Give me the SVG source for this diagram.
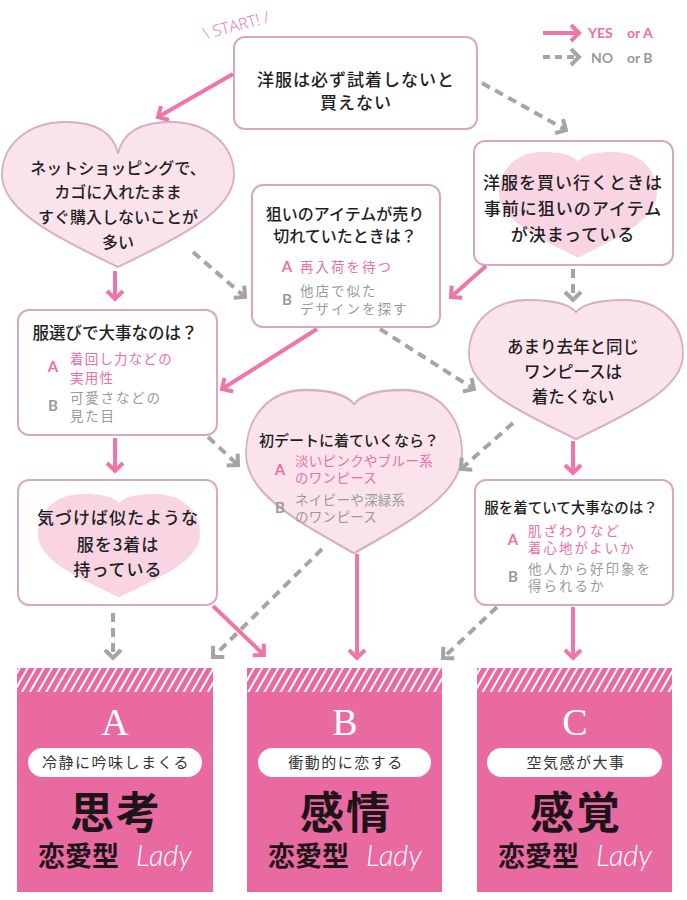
<svg xmlns="http://www.w3.org/2000/svg" width="687" height="900" viewBox="0 0 687 900">
<defs>
<style>
.q{font-family:"Noto Sans CJK JP","Noto Sans",sans-serif;font-weight:500;fill:#1e1e1e;text-anchor:middle;}
.box{fill:#ffffff;stroke:#d8a9be;stroke-width:2;}
.heart{fill:#fbe3ec;stroke:#d6afc0;}
.pale{fill:#f9d5e3;}
.oa{font-family:"Noto Sans CJK JP","Noto Sans",sans-serif;fill:#ec6fa5;font-size:13.5px;}
.ob{font-family:"Noto Sans CJK JP","Noto Sans",sans-serif;fill:#9a9a9a;font-size:13.5px;}
.la{font-family:"Lato","Liberation Sans",sans-serif;font-weight:bold;font-size:15px;fill:#ec6fa5;text-anchor:middle;}
.lb{font-family:"Lato","Liberation Sans",sans-serif;font-weight:bold;font-size:15px;fill:#9a9a9a;text-anchor:middle;}
.yes{fill:none;stroke:#ef75ab;stroke-width:4;}
.no{fill:none;stroke:#a5a5a5;stroke-width:4;stroke-dasharray:9 6;}
.res{fill:#e96aa1;}
.band{fill:url(#stripes);}
.letter{font-family:"Liberation Serif","DejaVu Serif",serif;font-size:38px;fill:#ffffff;text-anchor:middle;}
.pill{fill:#ffffff;}
.pt{font-family:"Noto Sans CJK JP",sans-serif;font-size:15px;fill:#333333;text-anchor:middle;letter-spacing:1.5px;}
.big{font-family:"Noto Sans CJK JP",sans-serif;font-weight:bold;font-size:44px;fill:#1e1418;text-anchor:middle;letter-spacing:2px;}
.ren{font-family:"Noto Sans CJK JP",sans-serif;font-weight:bold;font-size:27px;fill:#1e1418;}
.lady{font-family:"Lato","Liberation Sans",sans-serif;font-style:italic;font-weight:300;font-size:29px;fill:#ffffff;}
.leg{font-family:"Lato","Liberation Sans",sans-serif;font-weight:bold;font-size:14px;}
</style>
<pattern id="stripes" patternUnits="userSpaceOnUse" width="7" height="7" patternTransform="rotate(30)">
<rect width="7" height="7" fill="#e96aa1"/>
<rect x="0" y="0" width="2" height="7" fill="#ffffff"/>
</pattern>
<path id="heartDeep" d="M0,0.25 C-0.05,0.05 -0.25,0 -0.45,0 C-0.8,0 -1,0.2 -1,0.42 C-1,0.72 -0.45,0.95 0,1.15 C0.45,0.95 1,0.72 1,0.42 C1,0.2 0.8,0 0.45,0 C0.25,0 0.05,0.05 0,0.25 Z"/>
<path id="heartShallow" d="M0,0.1 C-0.08,0.02 -0.25,0 -0.45,0 C-0.8,0 -1,0.2 -1,0.45 C-1,0.75 -0.45,0.95 0,1.15 C0.45,0.95 1,0.75 1,0.45 C1,0.2 0.8,0 0.45,0 C0.25,0 0.08,0.02 0,0.1 Z"/>
<marker id="ap" markerUnits="userSpaceOnUse" markerWidth="24" markerHeight="24" viewBox="-12 -12 24 24" refX="0" refY="0" orient="auto" overflow="visible">
<path d="M-8,-8 L0,0 L-8,8" fill="none" stroke="#ef75ab" stroke-width="4"/>
</marker>
<marker id="ag" markerUnits="userSpaceOnUse" markerWidth="24" markerHeight="24" viewBox="-12 -12 24 24" refX="0" refY="0" orient="auto" overflow="visible">
<path d="M-8,-8 L0,0 L-8,8" fill="none" stroke="#a5a5a5" stroke-width="4"/>
</marker>
</defs>
<rect width="687" height="900" fill="#ffffff"/>

<!-- START label -->
<text x="236" y="31" transform="rotate(-15 236 25)" font-family="Open Sans, Liberation Sans, sans-serif" font-weight="300" font-size="16" fill="#ec6fa5" text-anchor="middle">\ START! /</text>

<!-- legend -->
<g id="legend">
<path class="yes" d="M543,33 L579,33" marker-end="url(#ap)"/>
<text class="leg" x="588" y="38" fill="#ec6fa5">YES</text>
<text class="leg" x="627" y="38" fill="#ec6fa5">or A</text>
<path class="no" d="M543,57 L579,57" marker-end="url(#ag)" style="stroke-dasharray:7 5"/>
<text class="leg" x="591" y="63" fill="#9a9a9a">NO</text>
<text class="leg" x="627" y="63" fill="#9a9a9a">or B</text>
</g>

<!-- nodes -->
<g id="n-start">
<rect class="box" x="234" y="37" width="243" height="92" rx="11"/>
<text class="q" font-size="17" letter-spacing="1" x="356" y="86">洋服は必ず試着しないと</text>
<text class="q" font-size="17" letter-spacing="1" x="356" y="109">買えない</text>
</g>

<g id="n-net">
<use href="#heartDeep" class="heart" transform="translate(118,122) scale(116,126)" vector-effect="non-scaling-stroke" style="stroke-width:0.016"/>
<text class="q" font-size="16" x="118" y="174">ネットショッピングで、</text>
<text class="q" font-size="16" x="118" y="198">カゴに入れたまま</text>
<text class="q" font-size="16" x="118" y="223">すぐ購入しないことが</text>
<text class="q" font-size="16" x="118" y="248">多い</text>
</g>

<g id="n-soldout">
<rect class="box" x="252" y="185" width="188" height="142" rx="11"/>
<text class="q" font-size="16" x="345" y="220">狙いのアイテムが売り</text>
<text class="q" font-size="16" x="345" y="242">切れていたときは？</text>
<text class="la" x="287" y="272">A</text>
<text class="oa" x="300" y="272" letter-spacing="2">再入荷を待つ</text>
<text class="lb" x="287" y="305">B</text>
<text class="ob" x="300" y="296" letter-spacing="2">他店で似た</text>
<text class="ob" x="300" y="314" letter-spacing="2">デザインを探す</text>
</g>

<g id="n-target">
<rect class="box" x="474" y="141" width="199" height="124" rx="11"/>
<use href="#heartShallow" class="pale" transform="translate(578,152) scale(79,92)"/>
<text class="q" font-size="17" letter-spacing="1" x="573" y="189">洋服を買い行くときは</text>
<text class="q" font-size="17" letter-spacing="1" x="573" y="215">事前に狙いのアイテム</text>
<text class="q" font-size="17" letter-spacing="1" x="573" y="241">が決まっている</text>
</g>

<g id="n-choose">
<rect class="box" x="18" y="310" width="199" height="125" rx="11"/>
<text class="q" font-size="16.5" x="115" y="339">服選びで大事なのは？</text>
<text class="la" x="53" y="372">A</text>
<text class="oa" x="70" y="364" letter-spacing="1.2">着回し力などの</text>
<text class="oa" x="70" y="383" letter-spacing="1.2">実用性</text>
<text class="lb" x="53" y="411">B</text>
<text class="ob" x="70" y="403" letter-spacing="1.8">可愛さなどの</text>
<text class="ob" x="70" y="421" letter-spacing="1.8">見た目</text>
</g>

<g id="n-lastyear">
<use href="#heartShallow" class="heart" transform="translate(576,300) scale(107,121)" vector-effect="non-scaling-stroke" style="stroke-width:0.017"/>
<text class="q" font-size="16.5" x="573" y="353">あまり去年と同じ</text>
<text class="q" font-size="16.5" x="573" y="378">ワンピースは</text>
<text class="q" font-size="16.5" x="573" y="403">着たくない</text>
</g>

<g id="n-date">
<use href="#heartShallow" class="heart" transform="translate(354,390) scale(108,142)" vector-effect="non-scaling-stroke" style="stroke-width:0.016"/>
<text class="q" font-size="15" x="349" y="446">初デートに着ていくなら？</text>
<text class="la" x="280" y="475">A</text>
<text class="oa" x="295" y="466" letter-spacing="0.3">淡いピンクやブルー系</text>
<text class="oa" x="295" y="483" letter-spacing="0.3">のワンピース</text>
<text class="lb" x="280" y="513">B</text>
<text class="ob" x="295" y="505" letter-spacing="0.3">ネイビーや深緑系</text>
<text class="ob" x="295" y="522" letter-spacing="0.3">のワンピース</text>
</g>

<g id="n-similar">
<rect class="box" x="18" y="480" width="199" height="125" rx="11"/>
<use href="#heartShallow" class="pale" transform="translate(119,494) scale(81,90)"/>
<text class="q" font-size="17" letter-spacing="1" x="118" y="524">気づけば似たような</text>
<text class="q" font-size="17" letter-spacing="1" x="118" y="551">服を3着は</text>
<text class="q" font-size="17" letter-spacing="1" x="118" y="576">持っている</text>
</g>

<g id="n-wear">
<rect class="box" x="475" y="480" width="198" height="125" rx="11"/>
<text class="q" font-size="14.5" x="571" y="513">服を着ていて大事なのは？</text>
<text class="la" x="513" y="545">A</text>
<text class="oa" x="528" y="536" letter-spacing="2">肌ざわりなど</text>
<text class="oa" x="528" y="553" letter-spacing="2">着心地がよいか</text>
<text class="lb" x="513" y="582">B</text>
<text class="ob" x="528" y="574" letter-spacing="2">他人から好印象を</text>
<text class="ob" x="528" y="591" letter-spacing="2">得られるか</text>
</g>

<!-- results -->
<g id="r-a">
<rect class="res" x="17" y="668" width="196" height="224"/>
<rect class="band" x="17" y="668" width="196" height="24"/>
<text class="letter" x="115" y="735">A</text>
<rect class="pill" x="28" y="748" width="174" height="29" rx="14.5"/>
<text class="pt" x="116" y="768">冷静に吟味しまくる</text>
<text class="big" x="116" y="829">思考</text>
<text class="ren" x="38" y="866">恋愛型</text>
<text class="lady" x="136" y="866">Lady</text>
</g>

<g id="r-b">
<rect class="res" x="247" y="668" width="195" height="224"/>
<rect class="band" x="247" y="668" width="195" height="24"/>
<text class="letter" x="345" y="735">B</text>
<rect class="pill" x="258" y="748" width="173" height="29" rx="14.5"/>
<text class="pt" x="346" y="768">衝動的に恋する</text>
<text class="big" x="346" y="829">感情</text>
<text class="ren" x="268" y="866">恋愛型</text>
<text class="lady" x="366" y="866">Lady</text>
</g>

<g id="r-c">
<rect class="res" x="477" y="668" width="195" height="224"/>
<rect class="band" x="477" y="668" width="195" height="24"/>
<text class="letter" x="575" y="735">C</text>
<rect class="pill" x="487" y="748" width="175" height="29" rx="14.5"/>
<text class="pt" x="576" y="768">空気感が大事</text>
<text class="big" x="576" y="829">感覚</text>
<text class="ren" x="498" y="866">恋愛型</text>
<text class="lady" x="596" y="866">Lady</text>
</g>

<!-- connectors -->
<g id="connectors">
<path class="yes" d="M233,74 L158,117" marker-end="url(#ap)"/>
<path class="no" d="M482,83 L566,130" marker-end="url(#ag)"/>
<path class="yes" d="M115,271 L115,299" marker-end="url(#ap)"/>
<path class="no" d="M193,252 L245,297" marker-end="url(#ag)"/>
<path class="no" d="M573,269 L573,300" marker-end="url(#ag)"/>
<path class="yes" d="M486,266 L451,297" marker-end="url(#ap)"/>
<path class="yes" d="M317,329 L222,389" marker-end="url(#ap)"/>
<path class="no" d="M380,329 L474,389" marker-end="url(#ag)"/>
<path class="yes" d="M115,438 L115,471" marker-end="url(#ap)"/>
<path class="no" d="M208,437 L238,465" marker-end="url(#ag)"/>
<path class="no" d="M513,423 L461,469" marker-end="url(#ag)"/>
<path class="yes" d="M573,441 L573,473" marker-end="url(#ap)"/>
<path class="no" d="M113,613 L113,658" marker-end="url(#ag)"/>
<path class="yes" d="M213,606 L264,655" marker-end="url(#ap)"/>
<path class="no" d="M322,549 L213,657" marker-end="url(#ag)"/>
<path class="yes" d="M357,554 L357,658" marker-end="url(#ap)"/>
<path class="no" d="M497,607 L443,658" marker-end="url(#ag)"/>
<path class="yes" d="M573,607 L573,658" marker-end="url(#ap)"/>
</g>
</svg>
